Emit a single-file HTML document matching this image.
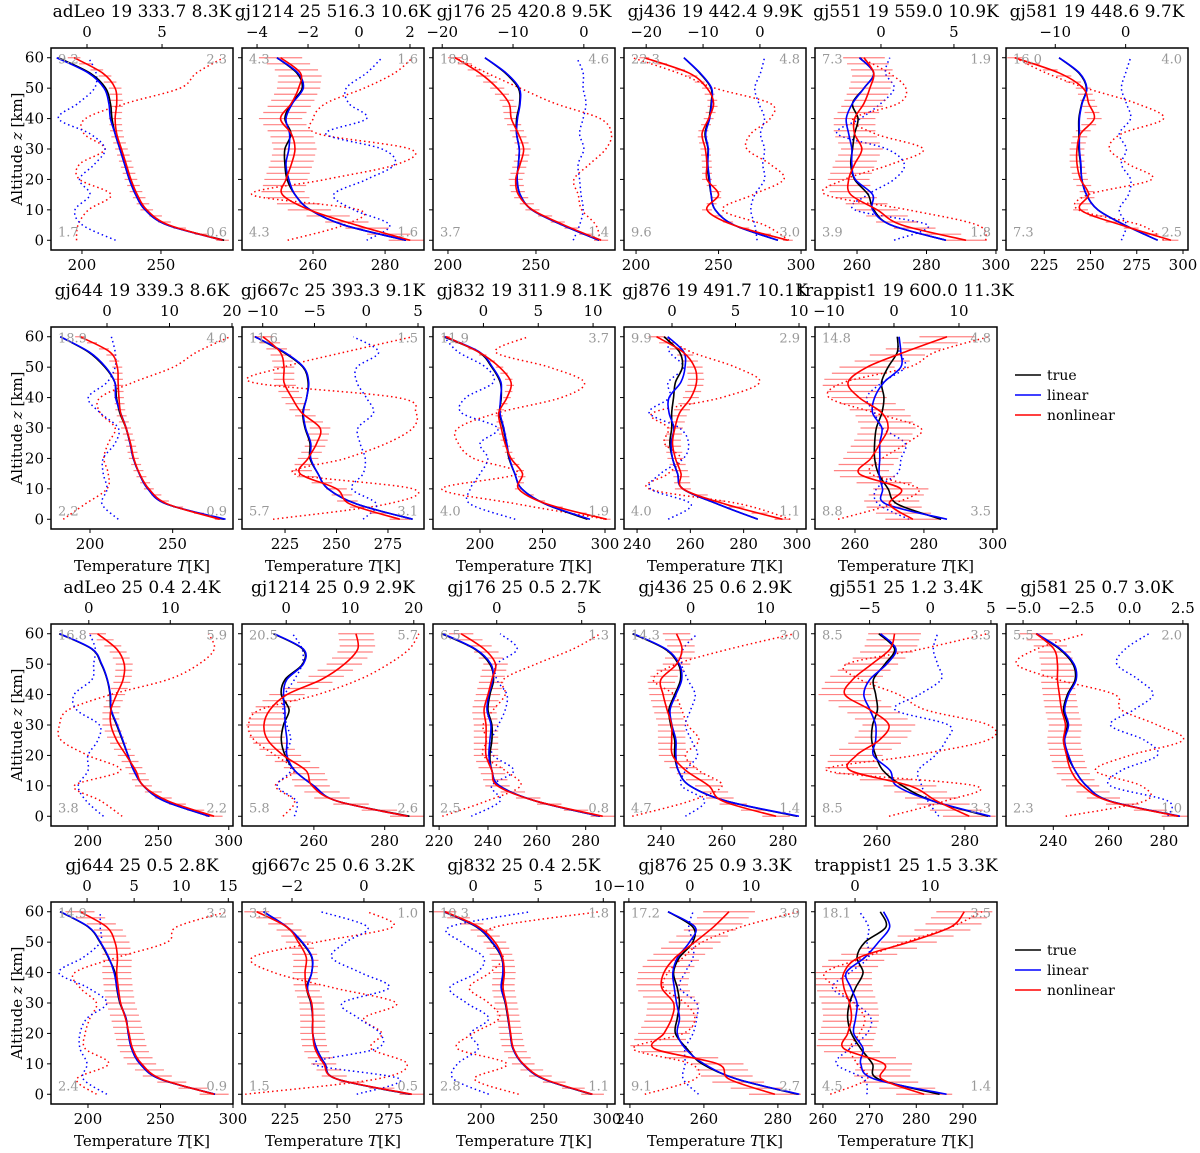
<!DOCTYPE html>
<html><head><meta charset="utf-8"><style>
body{margin:0;background:#fff;}
svg{display:block;font-family:"DejaVu Serif","Liberation Serif",serif;}
</style></head><body>
<svg id="fig" width="1200" height="1153" viewBox="0 0 1200 1153" xmlns="http://www.w3.org/2000/svg"></svg>
<script>
const panelTitles=["adLeo 19 333.7 8.3K","gj1214 25 516.3 10.6K","gj176 25 420.8 9.5K","gj436 19 442.4 9.9K","gj551 19 559.0 10.9K","gj581 19 448.6 9.7K",
"gj644 19 339.3 8.6K","gj667c 25 393.3 9.1K","gj832 19 311.9 8.1K","gj876 19 491.7 10.1K","trappist1 19 600.0 11.3K",
"adLeo 25 0.4 2.4K","gj1214 25 0.9 2.9K","gj176 25 0.5 2.7K","gj436 25 0.6 2.9K","gj551 25 1.2 3.4K","gj581 25 0.7 3.0K",
"gj644 25 0.5 2.8K","gj667c 25 0.6 3.2K","gj832 25 0.4 2.5K","gj876 25 0.9 3.3K","trappist1 25 1.5 3.3K"];
const panelRow=[0,0,0,0,0,0,1,1,1,1,1,2,2,2,2,2,2,3,3,3,3,3];
const panelCol=[0,1,2,3,4,5,0,1,2,3,4,0,1,2,3,4,5,0,1,2,3,4];
const altitudes=[0,5,10,15,20,25,30,35,40,45,50,55,60];
const bottomDomain=[[180.4,295.6],[240.3,290.8],[191.5,294.9],[192.7,303],[247.9,300.3],[204.3,302.7],
[176.4,286.5],[204.1,292.5],[162.4,308],[235.1,303.4],[248.4,301.2],
[173.8,303],[239.7,291.1],[217.5,292],[227.9,287.5],[245.9,287.3],[222.9,288.7],
[174.5,300],[204.3,291.8],[161.9,306.3],[238.4,287.6],[258.3,297.3]];
const topDomain=[[-2.4,9.73],[-4.59,2.55],[-21.3,4.4],[-23.9,8.1],[-4.52,7.95],[-17,8.86],
[-8.96,20.16],[-12,5.58],[-4.6,12],[-3.78,10.55],[-12.15,15.85],
[-4.64,17.7],[-6.93,21.6],[-3.75,6.96],[-8.9,15.4],[-9.5,5.5],[-5.8,2.74],
[-3.83,15.5],[-3.39,1.67],[-3.08,10.9],[-10.8,19],[-5.33,18.9]];
const bottomTicks=[["200","250"],["260","280"],["200","250"],["200","250","300"],["260","280","300"],["225","250","275","300"],
["200","250"],["225","250","275"],["200","250","300"],["240","260","280","300"],["260","280","300"],
["200","250","300"],["260","280"],["220","240","260","280"],["240","260","280"],["260","280"],["240","260","280"],
["200","250","300"],["225","250","275"],["200","250","300"],["240","260","280"],["260","270","280","290"]];
const topTicks=[["0","5"],["−4","−2","0","2"],["−20","−10","0"],["−20","−10","0"],["0","5"],["−10","0"],
["0","10","20"],["−10","−5","0","5"],["0","5","10"],["0","5","10"],["−10","0","10"],
["0","10"],["0","10","20"],["0","5"],["0","10"],["−5","0","5"],["−5.0","−2.5","0.0","2.5"],
["0","5","10","15"],["−2","0"],["0","5","10"],["−10","0","10"],["0","10"]];
const trueT=[
[290,254,240,234,230,227,224,221,219,218,215,205,185],
[285.8,268.6,259.2,255,252.8,252.2,252.2,253.9,252.2,254,257,255.5,250],
[285.8,265,247.7,241,239.3,240,240.5,239,239,240.7,240,232.5,221],
[286,259.4,248,245.5,244.2,243,243.6,241.8,244.2,245.5,245.5,238.5,229],
[285.6,269.8,264.8,263.2,259.3,258.2,258.7,259.3,260.3,258.7,262,264.8,260.7],
[286.3,268.5,254,247.8,245.3,244.6,243.7,243.7,243.7,245.3,247.8,243.7,233],
[281,246.3,235,229.8,226.2,224.2,221.7,218,216,215,209,199,182],
[287,259.8,245.9,241,237.1,237.1,234.7,233.6,235.5,236.2,233.7,224,210.4],
[286,252.3,233.4,227.8,223.2,221,218.6,215.6,217,216.2,209.4,198.8,171],
[285.3,270.2,257.2,255.2,253.3,252.3,253,253,253.7,254.4,257,255.9,250.1],
[285,272.3,269.6,266.8,265.7,265.7,266.2,267.8,268.4,267.7,269.6,272.3,272.3],
[286.3,254.3,239.4,232.6,228.5,224.5,220.4,216.3,215.7,213.6,209.5,202.7,179.6],
[287,266.5,260,254.6,251.9,250.8,251.4,253,250.8,251.9,256.8,256.8,248.6],
[285.9,259.6,244.7,241.6,240.8,241.6,241.6,240,240.8,242.3,240.8,234.5,221.1],
[284.6,261.4,249.5,245.7,244.5,244.5,243.2,242.6,244.5,246.4,245.7,241.3,230.7],
[285.3,272.7,265.8,261.4,259.7,258.8,259,260.1,259.7,259.2,261.8,264,260.4],
[285.4,260.4,252,247.9,245.1,243.7,245.1,243.7,245.1,247.9,247.1,242.2,233.8],
[287.6,249.7,235.9,230.1,227.8,226.2,222,219.8,218.6,214,208.3,200.2,180.7],
[285,249.9,244.2,240.2,238.3,238.3,237.4,235.4,237.8,237.8,233,225.8,214.6],
[287.6,249.6,233,225.3,223.2,221.3,219.2,216.2,217.7,216.2,208.6,196.4,170.6],
[285.4,268.9,259.5,255.4,252.3,252.8,253.4,252.8,251.8,253.4,257,257,250.3],
[285,271.9,270.6,268.1,266.1,265.3,265.7,267,268.6,267.3,269,273.5,272.3]];
const linearT=[
[289,254,240,234,230,227,224,221,218,217,214,204,184],
[285.8,268.6,259.2,255,253.3,252.5,253.3,253.5,252.5,254.3,257.3,255.8,250],
[285.8,265,247.7,241,239.3,240,240.5,239,239.5,241,240.5,233,221],
[286,259.4,248,245.5,244.6,243.5,243.8,242.2,244.6,245.8,245.8,238.8,229],
[285.6,269.8,264.5,264.5,259.5,258.5,258.5,257.6,256.9,258.7,262,264.8,260.7],
[286.3,268.5,254,247.8,245.3,244.8,244,244,244,245.5,248,244,233],
[282,246.3,235,229.8,226.2,224.2,221.9,218.5,215.5,215,209.5,199.5,182],
[287,259.8,245.9,241,237.5,237.5,235,233.9,235.5,236.5,234,224.5,210.4],
[288,252.3,233.4,227.8,223.6,221.4,219,216,216.5,216.8,210,199.5,172],
[285.3,270.2,257.2,255.2,253.3,252.8,253.8,252,252,256.4,258,257.5,251.5],
[286.7,269,268,267,267.2,267.2,267.8,265.1,265.7,268.4,273.3,273.3,272.8],
[286.3,254.3,239.4,232.6,228.5,224.8,220.8,216.6,216,213.8,209.8,203,180],
[286.5,266.5,260,254.6,252.4,252.4,251.9,251.8,251.4,252.4,257,257,248.8],
[285.9,259.6,244.7,241.6,240.4,240.8,241.2,239.6,240.4,242,241.2,234.8,221.5],
[285.2,261.4,249.5,245.7,244.9,244.9,243.6,243,244.9,246.8,246,241.6,231],
[285.8,272.7,264.5,263,259.2,259.7,259.7,258.4,257,258.4,262.2,264.3,260.8],
[285.8,260.4,252,247.9,245.5,244.1,245.5,244.1,245.5,248.3,247.5,242.6,234],
[287.6,249.7,235.9,230.1,227.8,226.2,222.3,220,218,214.3,208.6,200.5,181],
[285.5,249.9,244.2,240.2,238.3,238.3,237.6,235.8,237.8,238,233.3,226,214.6],
[288.2,249.6,233,225.3,223.2,221.5,219.5,216,217.3,216.5,209,196.8,171],
[285.8,268.9,260,255,252.8,253.4,252.6,252,251.6,252.9,256.1,257.6,250.3],
[286.5,271,268.1,268.6,266.6,267,267.3,266,265,269,271.9,274.3,273]];
const nonlinearT=[
[289,255,241,235,231,228,225,222,221,222,221,213,195],
[287,272,259,251.5,252.5,254,255,254,251,254,256,256.5,251],
[287,266,248,240,238.5,241,243,240,236,234.7,228,218,204],
[292,259,243,250,243,243,242,240,244,247,243,232,205],
[291.4,272.9,265.8,258.2,257.6,259.3,261.4,259.3,259.3,262,263.7,264.8,262],
[293.5,266.6,244.6,249,244.6,242.7,242.7,244.6,252,249,246,233,209],
[278.5,247,235.6,230,226.5,224.5,221.8,218.5,217.5,217,216.5,212,194],
[280.8,256.6,250,232.3,236.2,240.4,242,233.1,228.3,224.5,224.5,222.6,214.3],
[301.4,253.6,230.9,234,224.8,220,217,215,221.6,224.8,215.6,198.8,172.8],
[294.6,273,257.2,256.5,254.4,253.3,254.2,256,260.2,262.3,261.6,257.2,247.3],
[276.8,270,273.3,261.2,264.6,267.3,269.6,267.8,261.2,258,263.5,274.5,286.7],
[289.6,257,239.4,234,227.2,220.4,216.3,216.3,220.4,225,225.8,220.4,206.8],
[286.5,266.5,259.5,257.8,251.4,247,245.9,247.6,252.4,262.2,268.6,272.4,271.9],
[287,259.6,243.9,241.6,239.2,239.2,239.2,238.4,240,241.6,243.1,238.4,229],
[277.7,260.2,255.7,248.2,243.8,243.5,243.5,242,240.7,240,245.1,246.9,245.1],
[281,273.6,267.5,254,255.3,260.5,262.7,258.4,252.7,254.5,258.8,263,264],
[285.2,260,250.6,246.4,244.8,243.7,244.4,243,242.2,241.5,241.5,240.2,233.8],
[287,250.5,237,230.8,228.3,225.8,222.5,220.9,219.8,220.3,218.6,212.9,194.5],
[286,249.9,243.6,239.4,238.3,238.3,237.8,235.2,234.6,235.2,231.4,225.8,211.4],
[288.5,250.5,233.5,225.8,223.5,221.8,219.8,217.5,218.5,217,211,198.2,171.5],
[279.2,266.8,263.7,246.6,249.2,251.3,251.8,248.6,249.2,252.3,257.5,262.6,266.8],
[281.7,272.6,273.1,264.5,265.3,266.1,265.7,264.5,264.5,267.8,278.4,287.4,290.3]];
const dottedRed=[
[-0.7,-0.6,0.1,1.6,-0.5,-0.5,1.2,-0.2,-0.1,2.6,6.2,7.3,9.1],
[-2.8,-0.6,0,-4.2,-1.3,1.5,2,-1.6,-1.8,-1.3,0.2,1.4,2.1],
[2.3,1.7,-0.3,-0.8,-1.4,0.8,3.1,3.9,2.3,-4.1,-9,-13.7,-18.2],
[5.1,0.8,-6.6,-1.2,4.2,1.8,-2.3,-1.6,1.8,1.8,-7.9,-14.4,-22.4],
[7.2,6.6,1.85,-3.8,-2.5,0.7,2.9,-0.4,-1.9,1.2,1.7,0.55,-1.4],
[5.4,2.1,-6.7,-5.3,3.7,0.4,-2.3,-0.6,5.4,1.5,-5.6,-11.3,-15.7],
[-7,-3.5,0,0.2,-0.5,0.2,1.3,-1.1,-1.1,4.2,10.6,14.4,19.7],
[-9,2,4.5,-7,-2,2,4.5,4.8,3,-11,-8,-2,4.5],
[11.2,3.1,-3.8,3.1,-0.9,-2.3,-2.3,1.3,7.1,9.2,6,1.1,4.1],
[9.3,5.4,-1.8,-0.3,0.7,-0.6,-0.3,-1.5,3.9,6.9,5,1.5,-0.6],
[-8.6,-0.3,3.8,-3.6,-1.8,2,4.1,-3,-10,-7.7,2.3,6.4,14.6],
[4.1,1.5,-1.8,3.9,-0.1,-3.4,-3.6,-2.5,2.7,9.8,13.5,15.4,14.7],
[-0.5,1.3,-1.7,1.3,-1.7,-5,-5.9,-4.1,4.9,11.5,16,19.3,20.8],
[-3.2,-0.6,1.4,0.5,-0.8,-0.6,-0.8,-0.2,0.5,0.4,2.3,4.5,6.1],
[-7.8,-0.1,4.2,1.1,-0.7,1.1,-0.4,-1.2,-2.2,-5,-1.9,5.2,13.9],
[-3.4,1.2,3.7,-8.5,-1.3,4.7,4.8,-0.4,-2.6,-5.8,-6.9,-0.7,4.7],
[-3,0.7,0.55,-1.6,0,2.5,1.3,-0.4,-0.7,-3.4,-5.3,-4.35,-2.1],
[1,-1.1,2.3,-0.2,-0.2,0.3,1,-0.75,-1.3,3.2,8.5,9.5,14.9],
[-3.3,0.35,1.2,0.2,0.5,0,0.9,-0.85,-2.5,-3.1,-1.3,0.8,0.1],
[3.5,0.1,2.6,-1.2,0,2,1.2,-0.3,1.3,2.3,1.4,1.7,9.7],
[-7.4,0.8,0.1,-9.3,-1.1,0.8,-0.8,-4.3,-3.6,-1.1,2,8.3,17.7],
[-3.3,1.6,0.3,-0.7,0.6,1.3,-0.2,-2.5,-4,1.3,6.7,12.8,16.9]];
const dottedBlue=[
[1.9,-0.3,-0.8,0.2,-0.5,0.5,1.2,0.2,-1.9,-0.6,0.5,0.6,0.1],
[0.3,1.2,-0.2,-1,0.3,1.4,0.9,-1.3,0.3,-0.4,-0.5,0.3,0.9],
[-1.5,-0.6,-0.1,-0.4,-0.6,-0.8,0,-0.6,-0.1,0.3,-0.1,-0.1,-1],
[-0.5,-0.9,-1.6,-0.9,0.8,0.5,0.8,0.1,0.8,-0.2,-0.9,0.1,0.8],
[0.9,3.2,-1.8,-0.9,0.9,1.6,0.4,-3,-1.4,0,0.9,0.3,0.6],
[-0.6,0.1,-0.9,0.4,0.7,-0.6,0.1,-0.9,0.7,0.1,-0.6,0,0.7],
[1.8,-0.8,0,-0.6,-0.6,1.3,1.8,-1.1,-3,0,1.3,1.3,0.7],
[-0.3,1,-1.4,-0.3,-0.1,-0.6,-0.8,0.7,0,-0.9,-0.9,1.2,-1.25],
[2.9,-1.2,-1.2,-0.3,0.4,-0.3,1.3,-2,-1.6,0.9,0.2,-2.3,-3.6],
[-0.3,1.5,-1.7,-0.9,0.9,1.3,0.6,-1.8,-0.2,-0.3,0.9,-0.2,-0.3],
[2.3,-2.4,-2.7,0.5,1.1,1.7,-1.8,-3,-4.2,-1.8,1.7,0.8,0.5],
[1.8,-0.3,-1.3,-0.1,-0.1,1.1,1.3,-1.5,-1.8,0.4,0.6,0.8,0.1],
[1.3,1.6,-1.4,0.7,-0.2,0.7,0.1,-0.5,-0.2,1.3,2.5,2.5,1],
[-1.5,0.2,-0.3,1,-0.2,-0.3,0.1,0.5,0.6,0,0,1.2,0.2],
[-0.7,1.9,-1.2,-0.7,0.9,0.1,-0.7,0,0.6,-0.4,-1.2,-1,0.9],
[0.7,-0.2,-0.7,-1,0.4,1.3,1.5,-2.9,-0.9,0.9,0.6,0.25,0.6],
[1.8,1.8,-0.9,-0.4,1.3,0.7,-0.9,0.2,1.1,0.4,-0.6,-0.2,0.9],
[2.1,-0.4,0,-0.75,-0.75,0,2.1,0.1,-3,-0.4,1.4,1.4,1.4],
[-0.2,1,-1.4,0.35,0.45,-0.15,-0.6,0.7,-0.1,-0.9,-0.5,0.1,-1.2],
[1.2,-1.5,-1.2,0.4,-0.2,1.2,-0.5,-1.8,0.3,0.8,-0.9,-1.8,4.4],
[1.4,-1.1,-0.8,-0.8,0.5,1.1,1.1,-1.7,-0.8,0.5,0.5,-0.2,0.5],
[1.6,1.2,-2.5,-0.7,1.6,2.1,0,-3,-0.7,1.8,1.6,1.8,0.6]];
const errHalf=[4,6,4,3,6,4,3,5,3,3,8,6,5,5,4.5,6,6,10,6,9,7,6];
const cornerTL=["9.2","4.3","18.9","22.3","7.3","16.0","18.9","11.6","11.9","9.9","14.8","16.8","20.5","6.5","14.3","8.5","5.5","14.9","3.1","10.3","17.2","18.1"];
const cornerTR=["2.3","1.6","4.6","4.8","1.9","4.0","4.0","1.5","3.7","2.9","4.8","5.9","5.7","1.3","3.0","3.3","2.0","3.2","1.0","1.8","3.9","3.5"];
const cornerBL=["1.7","4.3","3.7","9.6","3.9","7.3","2.2","5.7","4.0","4.0","8.8","3.8","5.8","2.5","4.7","8.5","2.3","2.4","1.5","2.8","9.1","4.5"];
const cornerBR=["0.6","1.6","1.4","3.0","1.8","2.5","0.9","3.1","1.9","1.1","3.5","2.2","2.6","0.8","1.4","3.3","1.0","0.9","0.5","1.1","2.7","1.4"];
const legendLabels=["true","linear","nonlinear"];
const legendColors=["#000","#0000ff","#ff0000"];

const NS="http://www.w3.org/2000/svg";
const svg=document.getElementById('fig');
const rowTop=[48,327,624,902];
const BW=182,BH=202,ZMIN=-3.2,ZMAX=63.2;
function mk(tag,attrs,parent){const e=document.createElementNS(NS,tag);for(const k in attrs)e.setAttribute(k,attrs[k]);(parent||svg).appendChild(e);return e;}
function num(s){return parseFloat(s.replace('−','-'));}
function smooth(pts){
  let d='M'+pts[0][0].toFixed(2)+','+pts[0][1].toFixed(2);
  for(let i=0;i<pts.length-1;i++){
    const p0=pts[Math.max(0,i-1)],p1=pts[i],p2=pts[i+1],p3=pts[Math.min(pts.length-1,i+2)];
    const c1=[p1[0]+(p2[0]-p0[0])/6,p1[1]+(p2[1]-p0[1])/6];
    const c2=[p2[0]-(p3[0]-p1[0])/6,p2[1]-(p3[1]-p1[1])/6];
    d+=' C'+c1[0].toFixed(2)+','+c1[1].toFixed(2)+' '+c2[0].toFixed(2)+','+c2[1].toFixed(2)+' '+p2[0].toFixed(2)+','+p2[1].toFixed(2);
  }
  return d;
}
function interp(arr,z){const s=z/5;const i=Math.min(Math.floor(s),arr.length-2);const f=s-i;return arr[i]*(1-f)+arr[i+1]*f;}

for(let p=0;p<panelTitles.length;p++){
  const L=51+191*panelCol[p], T=rowTop[panelRow[p]], R=L+BW, B=T+BH;
  const bd=bottomDomain[p], td=topDomain[p];
  const xB=v=>L+(v-bd[0])/(bd[1]-bd[0])*BW;
  const xT=v=>L+(v-td[0])/(td[1]-td[0])*BW;
  const yZ=z=>B-(z-ZMIN)/(ZMAX-ZMIN)*BH;
  const g=mk('g',{});
  
  
  const cid='clip'+p;
  const cp=mk('clipPath',{id:cid},g);mk('rect',{x:L,y:T,width:BW,height:BH},cp);
  const title=mk('text',{x:(L+R)/2,y:T-31,'text-anchor':'middle','font-size':17},g);
  title.textContent=panelTitles[p];
  
  
  const plot=mk('g',{'clip-path':'url(#'+cid+')'},g);
  // dotted residuals (top axis)
  const dR=mk('path',{d:smooth(altitudes.map((z,i)=>[xT(dottedRed[p][i]),yZ(z)])),fill:'none',stroke:'#ff0000','stroke-width':1.5,'stroke-dasharray':'1.5 3'},plot);
  
  
  const dB=mk('path',{d:smooth(altitudes.map((z,i)=>[xT(dottedBlue[p][i]),yZ(z)])),fill:'none',stroke:'#0000ff','stroke-width':1.5,'stroke-dasharray':'1.5 3'},plot);
  
  
  // error bars
  const eg=mk('g',{stroke:'#ff3030','stroke-opacity':0.6,'stroke-width':1.2},plot);
  
  
  for(let z=0;z<=60;z+=2){const c=interp(nonlinearT[p],z);mk('line',{x1:xB(c-errHalf[p]),x2:xB(c+errHalf[p]),y1:yZ(z),y2:yZ(z)},eg);}
  const series=[[trueT,'#000','true-profile'],[linearT,'#0000ff','linear-profile'],[nonlinearT,'#ff0000','nonlinear-profile']];
  for(const s of series){
    const ln=mk('path',{d:smooth(altitudes.map((z,i)=>[xB(s[0][p][i]),yZ(z)])),fill:'none',stroke:s[1],'stroke-width':1.6},plot);
    
    
  }
  // corner labels
  const cl=[[cornerTL[p],L+7,yZ(60)+6,'start'],[cornerTR[p],R-6,yZ(60)+6,'end'],[cornerBL[p],L+7,yZ(0)-4,'start'],[cornerBR[p],R-6,yZ(0)-4,'end']];
  for(const c of cl){const t=mk('text',{x:c[1],y:c[2],'text-anchor':c[3],'font-size':13,fill:'#999'},g);t.textContent=c[0];
    
    }
  // frame
  const fr=mk('rect',{x:L,y:T,width:BW,height:BH,fill:'none',stroke:'#000','stroke-width':1.5},g);
  
  
  // y ticks
  for(let z=0;z<=60;z+=10){
    mk('line',{x1:L-4,x2:L,y1:yZ(z),y2:yZ(z),stroke:'#000','stroke-width':1},g);
    if(panelCol[p]===0){const t=mk('text',{x:L-7,y:yZ(z)+5,'text-anchor':'end','font-size':15},g);t.textContent=z;
      
      }
  }
  // bottom ticks
  for(const s of bottomTicks[p]){const x=xB(num(s));
    mk('line',{x1:x,x2:x,y1:B,y2:B+4,stroke:'#000','stroke-width':1},g);
    const t=mk('text',{x:x,y:B+20,'text-anchor':'middle','font-size':15},g);t.textContent=s;
    
    }
  // top ticks
  for(const s of topTicks[p]){const x=xT(num(s));
    mk('line',{x1:x,x2:x,y1:T-4,y2:T,stroke:'#000','stroke-width':1},g);
    const t=mk('text',{x:x,y:T-11,'text-anchor':'middle','font-size':15},g);t.textContent=s;
    
    }
  if(panelRow[p]===1||panelRow[p]===3){
    const xl=mk('text',{x:(L+R)/2,y:B+42,'text-anchor':'middle','font-size':15},g);
    xl.innerHTML='Temperature <tspan font-style="italic">T</tspan>[K]';
    
    
  }
}
// y axis titles
for(let r=0;r<4;r++){
  const cy=rowTop[r]+BH/2;
  const t=mk('text',{x:0,y:0,'text-anchor':'middle','font-size':15,transform:'translate(22,'+cy+') rotate(-90)'});
  t.innerHTML='Altitude <tspan font-style="italic">z</tspan> [km]';
  
  
}
// legends
for(const ly of [375,950]){
  const lg=mk('g',{});
  
  
  for(let i=0;i<legendLabels.length;i++){
    const y=ly+i*20;
    mk('line',{x1:1015,x2:1041,y1:y,y2:y,stroke:legendColors[i],'stroke-width':1.6},lg);
    const t=mk('text',{x:1047,y:y+5,'font-size':14},lg);t.textContent=legendLabels[i];
    
    
  }
}
</script>
</body></html>
